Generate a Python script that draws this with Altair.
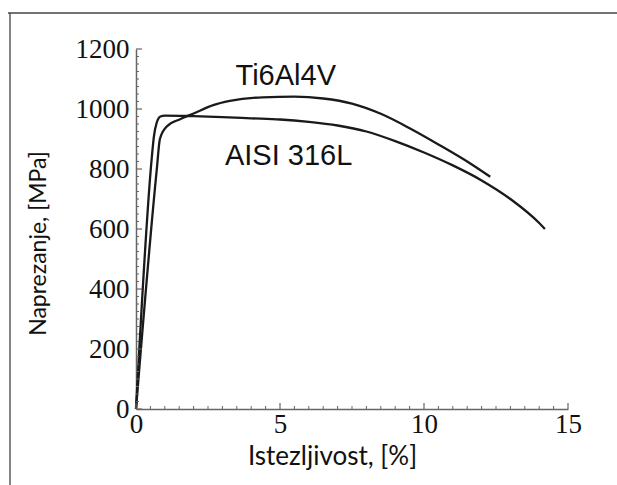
import altair as alt
import pandas as pd

# Ti6Al4V curve (strain %, stress MPa)
ti_x = [0, 0.72, 0.83, 1.06, 1.53, 2.0, 2.68, 3.26, 4.4, 5.5, 6.5, 7.5, 8.5, 9.5, 10.5, 11.5, 12.3]
ti_y = [0, 797, 900, 941, 966, 985, 1013, 1027, 1039, 1041, 1035, 1018, 984, 936, 882, 825, 774]

# AISI 316L curve
aisi_x = [0, 0.55, 0.62, 0.72, 0.85, 1.0, 2.0, 3.0, 4.0, 5.0, 6.0, 7.0, 8.0, 9.0, 10.0, 11.0, 12.0, 13.0, 14.0, 14.2]
aisi_y = [0, 840, 907, 955, 975, 978, 976, 973, 969, 965, 957, 945, 925, 893, 855, 812, 762, 700, 620, 600]

x_major = [0, 5, 10, 15]
x_minor = [0.5, 1, 1.5, 2, 2.5, 3, 3.5, 4, 4.5, 5.5, 6, 6.5, 7, 7.5, 8, 8.5, 9, 9.5,
           10.5, 11, 11.5, 12, 12.5, 13, 13.5, 14, 14.5]
y_major = [0, 200, 400, 600, 800, 1000, 1200]
y_minor = [v for v in range(25, 1200, 25) if v % 200 != 0]

label_text = ["Ti6Al4V", "AISI 316L"]
label_x = [5.2, 5.3]
label_y = [1110, 843]

W, H = 432, 360
x_scale = alt.Scale(domain=[0, 15], nice=False, zero=False)
y_scale = alt.Scale(domain=[0, 1200], nice=False)

df = pd.concat([
    pd.DataFrame({"x": ti_x, "y": ti_y, "series": "Ti6Al4V"}),
    pd.DataFrame({"x": aisi_x, "y": aisi_y, "series": "AISI 316L"}),
])

AX = "#666666"

curves = alt.Chart(df).mark_line(strokeWidth=2.3, interpolate="monotone", color="#1a1a1a").encode(
    x=alt.X("x:Q", scale=x_scale, axis=alt.Axis(
        values=x_major, format="d", title="Istezljivost, [%]", ticks=False, tickSize=0, grid=False,
        domainColor=AX, domainWidth=1.5, labelFont="Liberation Serif", labelFontSize=27,
        labelColor="#111111", labelPadding=2, labelFlush=False,
        titleFont="Lato", titleFontSize=26, titleFontWeight="normal", titleColor="#111111",
        titleX=196, titleY=47, titleBaseline="middle", titleAlign="center")),
    y=alt.Y("y:Q", scale=y_scale, axis=alt.Axis(
        values=y_major, format="d", title="Naprezanje, [MPa]", ticks=False, tickSize=0, grid=False,
        domainColor=AX, domainWidth=1.5, labelFont="Liberation Serif", labelFontSize=27,
        labelColor="#111111", labelPadding=7, labelFlush=False,
        titleFont="Lato", titleFontSize=23, titleFontWeight="normal", titleColor="#111111",
        titleX=-98, titleY=194, titleAngle=270, titleBaseline="middle", titleAlign="center")),
    detail="series:N",
)

one = pd.DataFrame({"d": [0]})
frame_top = alt.Chart(one).mark_rule(color="#444444", strokeWidth=1.3).encode(
    x=alt.value(-128), x2=alt.value(481), y=alt.value(-36))
frame_left = alt.Chart(one).mark_rule(color="#444444", strokeWidth=1.3).encode(
    x=alt.value(-126), y=alt.value(-36), y2=alt.value(436))

xt_major = alt.Chart(pd.DataFrame({"x": x_major})).mark_rule(color=AX, strokeWidth=1.2).encode(
    x=alt.X("x:Q", scale=x_scale), y=alt.value(H), y2=alt.value(H - 6))
xt_minor = alt.Chart(pd.DataFrame({"x": x_minor})).mark_rule(color=AX, strokeWidth=1.0).encode(
    x=alt.X("x:Q", scale=x_scale), y=alt.value(H), y2=alt.value(H - 3))
yt_major = alt.Chart(pd.DataFrame({"y": y_major})).mark_rule(color=AX, strokeWidth=1.2).encode(
    y=alt.Y("y:Q", scale=y_scale), x=alt.value(0), x2=alt.value(6))
yt_minor = alt.Chart(pd.DataFrame({"y": y_minor})).mark_rule(color=AX, strokeWidth=1.0).encode(
    y=alt.Y("y:Q", scale=y_scale), x=alt.value(0), x2=alt.value(3))

labels = alt.Chart(pd.DataFrame({"x": label_x, "y": label_y, "t": label_text})).mark_text(
    font="Liberation Sans", fontSize=29, color="#111111").encode(
    x=alt.X("x:Q", scale=x_scale),
    y=alt.Y("y:Q", scale=y_scale),
    text="t:N")

chart = alt.layer(curves, frame_top, frame_left, xt_minor, xt_major, yt_minor, yt_major, labels).properties(
    width=W, height=H,
    autosize=alt.AutoSizeParams(type="none"),
    padding={"left": 136, "top": 49, "right": 49, "bottom": 76},
    background="white",
).configure_view(stroke=None)

chart.save("out.html", embed_options={"renderer": "svg", "actions": False})
